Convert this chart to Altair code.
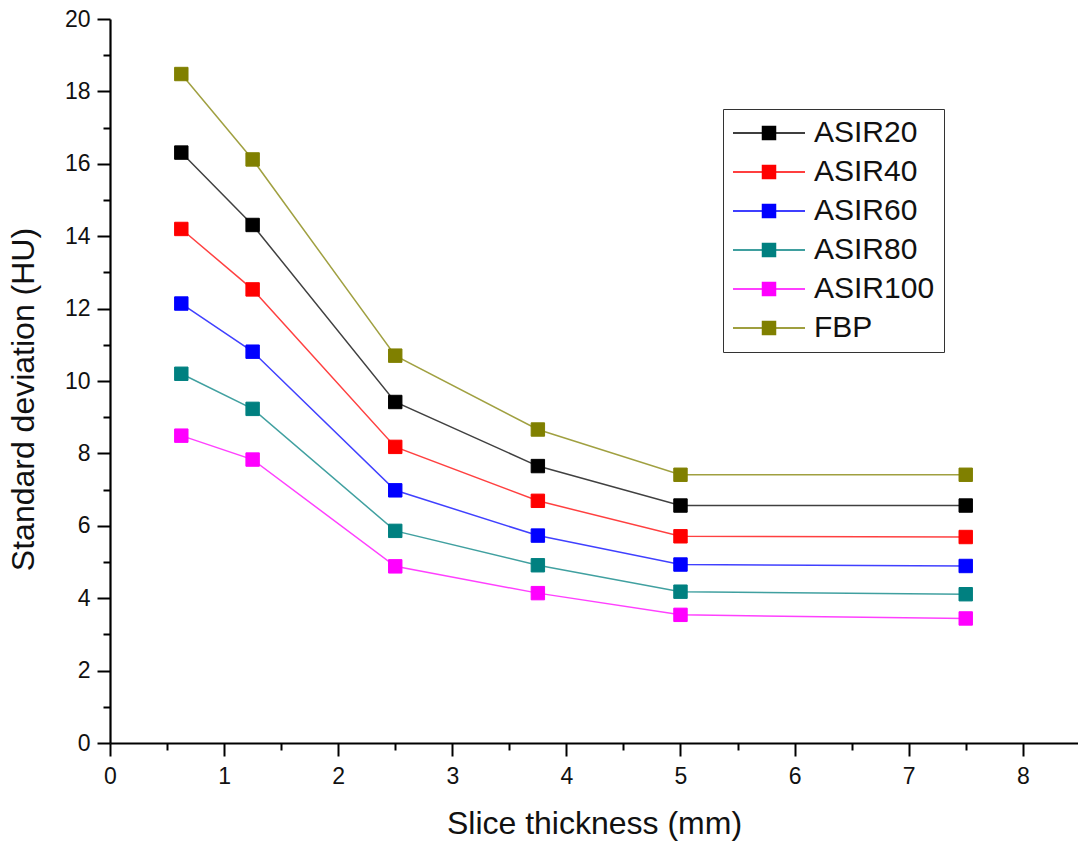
import altair as alt
import pandas as pd

# Slice thicknesses (mm) and noise (standard deviation, HU) per reconstruction
thickness = [0.625, 1.25, 2.5, 3.75, 5.0, 7.5]
series_names = ["ASIR20", "ASIR40", "ASIR60", "ASIR80", "ASIR100", "FBP"]
asir20 = [16.31, 14.31, 9.42, 7.65, 6.56, 6.56]
asir40 = [14.20, 12.53, 8.18, 6.69, 5.71, 5.69]
asir60 = [12.14, 10.81, 6.98, 5.73, 4.93, 4.89]
asir80 = [10.20, 9.23, 5.86, 4.91, 4.18, 4.11]
asir100 = [8.49, 7.83, 4.88, 4.14, 3.54, 3.44]
fbp = [18.48, 16.12, 10.70, 8.66, 7.41, 7.41]
series_colors = ["#000000", "#ff0000", "#0000ff", "#008080", "#ff00ff", "#808000"]

# Axis tick positions
x_major = [0, 1, 2, 3, 4, 5, 6, 7, 8]
x_minor = [0.5, 1.5, 2.5, 3.5, 4.5, 5.5, 6.5, 7.5]
y_major = [0, 2, 4, 6, 8, 10, 12, 14, 16, 18, 20]
y_minor = [1, 3, 5, 7, 9, 11, 13, 15, 17, 19]

values = [asir20, asir40, asir60, asir80, asir100, fbp]
rows = []
for name, ys in zip(series_names, values):
    for xv, yv in zip(thickness, ys):
        rows.append({"series": name, "thickness": xv, "sd": yv})
df = pd.DataFrame(rows)

FONT = "Liberation Sans"

x_scale = alt.Scale(domain=[0, 8.484], nice=False, zero=False)
y_scale = alt.Scale(domain=[0, 20], nice=False)

# Major axes: labelled ticks, axis line and titles
x_major_axis = alt.Axis(
    orient="bottom",
    title="Slice thickness (mm)",
    values=x_major,
    format="d",
    tickSize=13,
    labelPadding=9,
    titleFontSize=32,
    titleY=90,
    titleBaseline="alphabetic",
)
y_major_axis = alt.Axis(
    orient="left",
    title="Standard deviation (HU)",
    values=y_major,
    format="d",
    tickSize=13,
    labelPadding=7,
    titleFontSize=32,
    titleX=-77,
    titleY=380,
    titleBaseline="alphabetic",
    titleAngle=270,
)
# Minor axes: short unlabelled ticks only
x_minor_axis = alt.Axis(
    orient="bottom", title=None, values=x_minor, labels=False, domain=False, tickSize=7
)
y_minor_axis = alt.Axis(
    orient="left", title=None, values=y_minor, labels=False, domain=False, tickSize=7
)

color_scale = alt.Scale(domain=series_names, range=series_colors)

# Legend symbol: short line with a filled square on it (path shifted right so the
# layout box only reserves a 28px square while the drawn glyph is 72px wide)
legend_symbol = (
    "M-1,0H1.107M2.036,0H4.143"
    "M1.107,-0.464H2.036V0.464H1.107Z"
)
legend = alt.Legend(
    title=None,
    orient="none",
    legendX=613,
    legendY=90,
    symbolType=legend_symbol,
    symbolSize=784,
    symbolStrokeWidth=1.5,
    labelFontSize=30,
    labelFont=FONT,
    labelColor="#111111",
    labelOffset=52,
    rowPadding=9,
    padding=9,
    strokeColor="#333333",
    fillColor="white",
)

lines = alt.Chart(df).mark_line(strokeWidth=1.5, strokeOpacity=0.75).encode(
    x=alt.X("thickness:Q", scale=x_scale, axis=x_major_axis),
    y=alt.Y("sd:Q", scale=y_scale, axis=y_major_axis),
    stroke=alt.Stroke("series:N", scale=color_scale, sort=series_names, legend=legend),
    detail="series:N",
)

points = alt.Chart(df).mark_point(shape="square", filled=True, size=180, strokeWidth=1, opacity=1).encode(
    x=alt.X("thickness:Q", scale=x_scale, axis=x_minor_axis),
    y=alt.Y("sd:Q", scale=y_scale, axis=y_minor_axis),
    fill=alt.Fill("series:N", scale=color_scale, sort=series_names, legend=legend),
    stroke=alt.Stroke("series:N", scale=color_scale, sort=series_names, legend=legend),
)

chart = (
    alt.layer(lines, points)
    .resolve_axis(x="independent", y="independent")
    .properties(
        width=968,
        height=724,
        autosize=alt.AutoSizeParams(type="none"),
        padding={"left": 110, "top": 19, "right": 0, "bottom": 105},
        background="white",
    )
    .configure_view(stroke=None)
    .configure_axis(
        domainColor="black",
        domainWidth=2.2,
        tickColor="black",
        tickWidth=2,
        grid=False,
        labelFlush=False,
        labelFont=FONT,
        labelFontSize=23,
        labelColor="#111111",
        titleFont=FONT,
        titleFontWeight="normal",
        titleColor="#111111",
    )
)

chart.save("out.html", embed_options={"renderer": "svg", "actions": False})
